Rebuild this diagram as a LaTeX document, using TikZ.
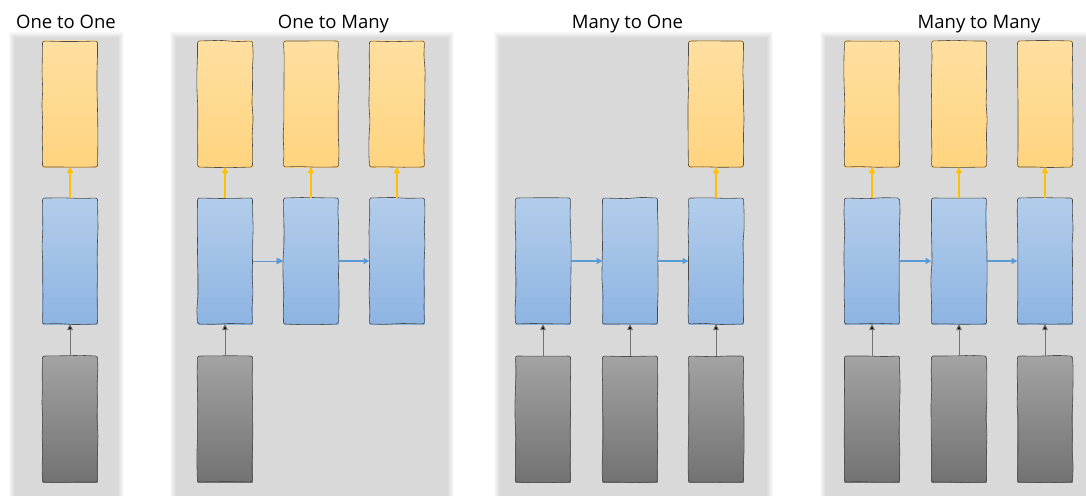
\documentclass[tikz,border=0pt]{standalone}
\usepackage{fontspec}
\setmainfont{Open Sans}
\usetikzlibrary{arrows.meta, decorations.pathmorphing}
\definecolor{colPanel}{HTML}{D9D9D9}
\definecolor{colOutTop}{HTML}{FFDFA0}
\definecolor{colOutBot}{HTML}{FFD47F}
\definecolor{colHidTop}{HTML}{B3CDEB}
\definecolor{colHidBot}{HTML}{8DB4E2}
\definecolor{colInTop}{HTML}{A3A3A3}
\definecolor{colInBot}{HTML}{727272}
\definecolor{colOutArrow}{HTML}{FFC000}
\definecolor{colHidArrow}{HTML}{5B9BD5}

\begin{document}
\begin{tikzpicture}[x=1pt, y=-1pt, font=\fontsize{18.5}{20}\selectfont,
  cell/.style={minimum width=55pt, minimum height=126pt, inner sep=0pt, outer sep=0pt,
    postaction={draw=black!70, line width=0.6pt, decorate, rounded corners=2pt,
      decoration={random steps, segment length=16pt, amplitude=0.7pt}}},
  outcell/.style={cell, top color=colOutTop, bottom color=colOutBot},
  hidcell/.style={cell, top color=colHidTop, bottom color=colHidBot},
  incell/.style={cell, top color=colInTop, bottom color=colInBot},
  inarrow/.style={draw=black!55, line width=0.9pt, -{Triangle[length=6pt, width=5.5pt, fill=black]}},
  outarrow/.style={color=colOutArrow, line width=1.6pt, -{Triangle[length=6pt, width=6pt]}},
  hidarrow/.style={color=colHidArrow, line width=1.5pt, -{Triangle[length=6pt, width=6pt]}},
  thinhid/.style={color=colHidArrow, line width=0.8pt, -{Triangle[length=7pt, width=6.5pt]}},
  title/.style={anchor=base, inner sep=0pt}]
  \pgfmathsetseed{11}
  \useasboundingbox (0,0) rectangle (1086,495);

  % Panels with soft edge
  \foreach \xa/\xb in {16/117, 177/447, 501/766, 827/1092} {
    \foreach \g in {1,...,7}
      \fill[black, opacity=0.022] (\xa-\g, 39-\g) rectangle (\xb+\g, 500);
    \fill[colPanel] (\xa,39) rectangle (\xb,500);
  }

  % Titles
  \node[title] (tA) at (66,28.5) {One to One};
  \node[title] (tB) at (333.5,28.5) {One to Many};
  \node[title] (tC) at (627.5,28.5) {Many to One};
  \node[title] (tD) at (979,28.5) {Many to Many};

  % Cells
  \node[outcell] (oA1) at (70,104) {};
  \node[hidcell] (hA1) at (70,261) {};
  \node[incell] (iA1) at (70,419) {};
  \foreach \i/\x in {1/225, 2/311, 3/397} {
    \node[outcell] (oB\i) at (\x,104) {};
    \node[hidcell] (hB\i) at (\x,261) {};
  }
  \node[incell] (iB1) at (225,419) {};
  \node[outcell] (oC3) at (716,104) {};
  \foreach \i/\x in {1/543, 2/630, 3/716} {
    \node[hidcell] (hC\i) at (\x,261) {};
    \node[incell] (iC\i) at (\x,419) {};
  }
  \foreach \i/\x in {1/872, 2/959, 3/1045} {
    \node[outcell] (oD\i) at (\x,104) {};
    \node[hidcell] (hD\i) at (\x,261) {};
    \node[incell] (iD\i) at (\x,419) {};
  }

  % Outputs
  \foreach \n in {A1, B1, B2, B3, C3, D1, D2, D3}
    \draw[outarrow] (h\n) -- (o\n);
  % Recurrence
  \draw[thinhid] (hB1) -- (hB2);
  \foreach \a/\b in {B2/B3, C1/C2, C2/C3, D1/D2, D2/D3}
    \draw[hidarrow] (h\a) -- (h\b);
  % Inputs
  \foreach \n in {A1, B1, C1, C2, C3, D1, D2, D3}
    \draw[inarrow] (i\n) -- (h\n);
\end{tikzpicture}
\end{document}
